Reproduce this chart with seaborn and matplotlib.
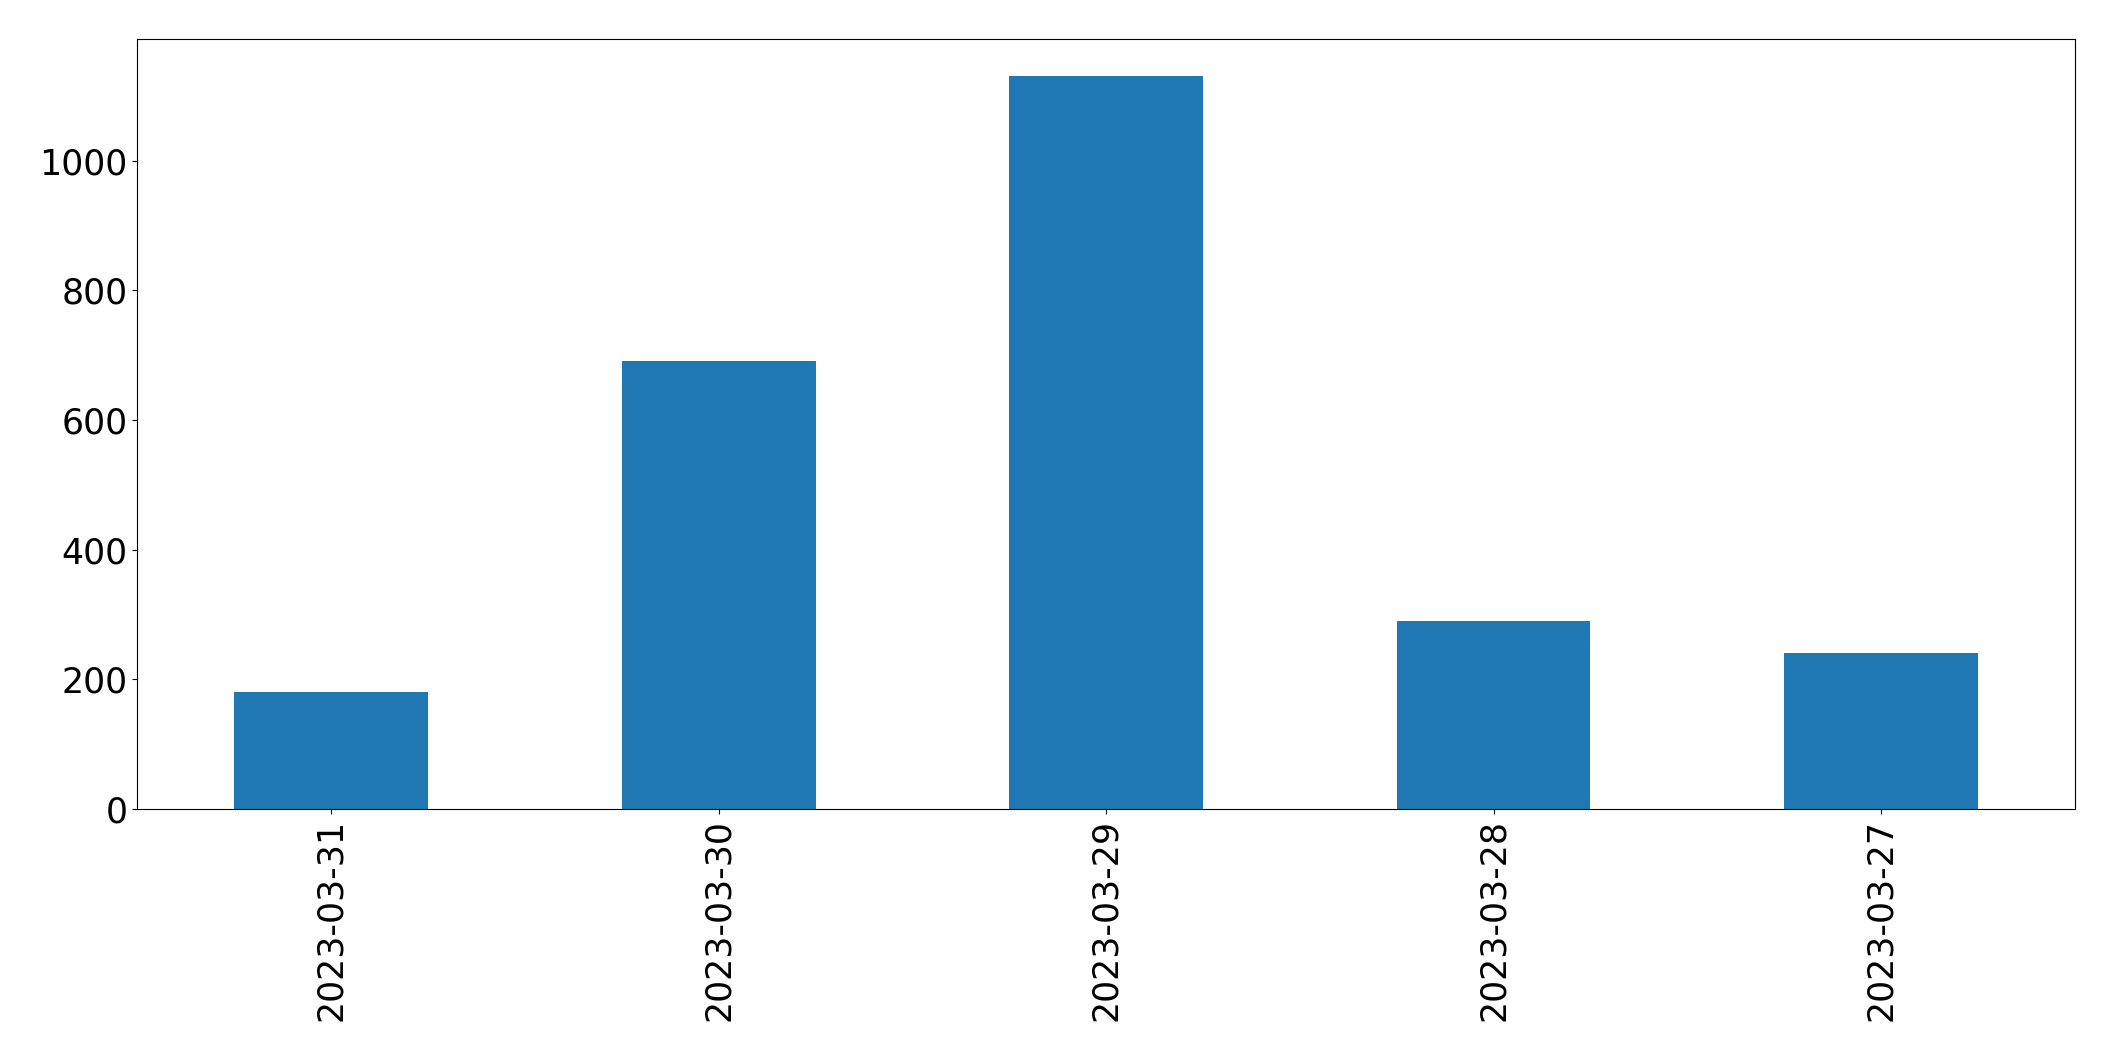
import matplotlib
matplotlib.use("Agg")
import matplotlib.pyplot as plt
import seaborn as sns
import pandas as pd

# daily counts
dates = ["2023-03-31", "2023-03-30", "2023-03-29", "2023-03-28", "2023-03-27"]
counts = [180, 691, 1131, 290, 241]

df = pd.DataFrame({"date": dates, "count": counts})

fig = plt.figure(figsize=(21.15, 10.61), dpi=100)
ax = fig.add_axes([0.065, 0.2375, 0.916, 0.7255])

sns.barplot(data=df, x="date", y="count", order=dates, color="#1f77b4",
            saturation=1, width=0.5, linewidth=0, ax=ax)

ax.set_xlim(-0.5, len(dates) - 0.5)
ax.set_ylim(0, max(counts) * 1.05)
ax.set_xlabel("")
ax.set_ylabel("")
ax.tick_params(axis="both", labelsize=25)
for s in ax.spines.values():
    s.set_color("black")
plt.setp(ax.get_xticklabels(), rotation=90)

fig.savefig("out.png", dpi=100)
